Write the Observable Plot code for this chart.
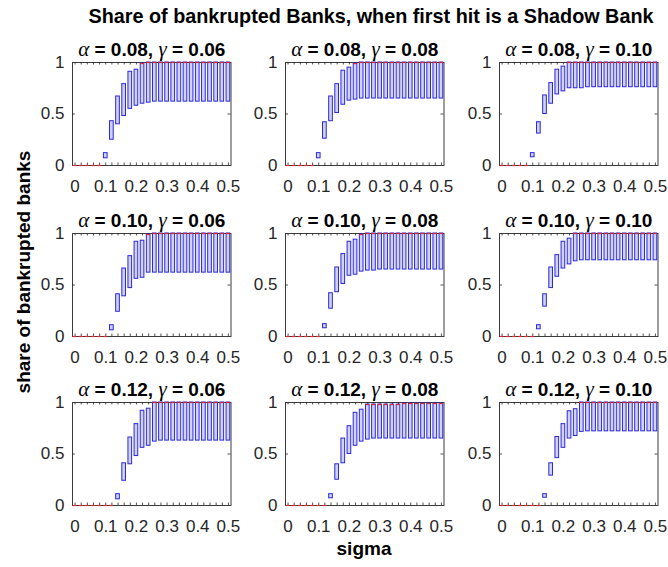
<!DOCTYPE html>
<html><head><meta charset="utf-8">
<script src="https://cdn.jsdelivr.net/npm/d3@7"></script>
<script src="https://cdn.jsdelivr.net/npm/@observablehq/plot@0.6"></script>
<style>
body{margin:0;background:#fff;}
#fig{position:relative;width:668px;height:567px;background:#fff;font-family:"Liberation Sans",Arial,sans-serif;overflow:hidden;}
.panel{position:absolute;}
.lbl{position:absolute;font-weight:bold;color:#000;white-space:nowrap;line-height:1;}
</style></head><body>
<div id="fig"></div>
<script>
// ---- data ----
const sigma = [0, 0.02, 0.04, 0.06, 0.08, 0.1, 0.12, 0.14, 0.16, 0.18, 0.2, 0.22, 0.24, 0.26, 0.28, 0.3, 0.32, 0.34, 0.36, 0.38, 0.4, 0.42, 0.44, 0.46, 0.48, 0.5];
const xTickValues = [0, 0.1, 0.2, 0.3, 0.4, 0.5];
const yTickValues = [0, 0.5, 1];
const alphas = [0.08, 0.10, 0.12];
const gammas = [0.06, 0.08, 0.10];

// lower / upper quartile of each box
const q1_a08_g06 = [0,0,0,0,0, 0.07,0.25,0.40,0.48,0.55,0.58,0.60, 0.61,0.62,0.62,0.62,0.62,0.62,0.62,0.62,0.62,0.62,0.62,0.62,0.62,0.62];
const q3_a08_g06 = [0,0,0,0,0, 0.12,0.43,0.67,0.79,0.91,0.93,0.99, 1,1,1,1,1,1,1,1,1,1,1,1,1,1];
const q1_a08_g08 = [0,0,0,0,0, 0.07,0.26,0.43,0.51,0.59,0.63,0.64, 0.65,0.65,0.65,0.65,0.65,0.65,0.65,0.65,0.65,0.65,0.65,0.65,0.65,0.65];
const q3_a08_g08 = [0,0,0,0,0, 0.12,0.42,0.67,0.79,0.92,0.95,0.99, 1,1,1,1,1,1,1,1,1,1,1,1,1,1];
const q1_a08_g10 = [0,0,0,0,0, 0.08,0.31,0.50,0.60,0.69,0.72, 0.75,0.75,0.75,0.76,0.76,0.76,0.76,0.76,0.76,0.76,0.76,0.76,0.76,0.76,0.76];
const q3_a08_g10 = [0,0,0,0,0, 0.12,0.42,0.68,0.80,0.93,0.96, 1,1,1,1,1,1,1,1,1,1,1,1,1,1,1];
const q1_a10_g06 = [0,0,0,0,0,0, 0.06,0.24,0.39,0.47,0.56,0.57, 0.62,0.62,0.62,0.62,0.62,0.62,0.62,0.62,0.62,0.62,0.62,0.62,0.62,0.62];
const q3_a10_g06 = [0,0,0,0,0,0, 0.11,0.41,0.66,0.78,0.92,0.93, 0.99,1,1,1,1,1,1,1,1,1,1,1,1,1];
const q1_a10_g08 = [0,0,0,0,0,0, 0.08,0.27,0.43,0.51,0.59,0.60,0.63, 0.64,0.64,0.65,0.65,0.65,0.65,0.65,0.65,0.65,0.65,0.65,0.65,0.65];
const q3_a10_g08 = [0,0,0,0,0,0, 0.12,0.42,0.67,0.80,0.92,0.94,0.99, 1,1,1,1,1,1,1,1,1,1,1,1,1];
const q1_a10_g10 = [0,0,0,0,0,0, 0.07,0.29,0.47,0.58,0.66,0.70, 0.73,0.74,0.74,0.74,0.74,0.74,0.74,0.74,0.74,0.74,0.74,0.74,0.74,0.74];
const q3_a10_g10 = [0,0,0,0,0,0, 0.11,0.41,0.67,0.79,0.92,0.95, 1,1,1,1,1,1,1,1,1,1,1,1,1,1];
const q1_a12_g06 = [0,0,0,0,0,0,0, 0.06,0.24,0.40,0.48,0.56,0.58, 0.62,0.63,0.63,0.63,0.63,0.63,0.63,0.63,0.63,0.63,0.63,0.63,0.63];
const q3_a12_g06 = [0,0,0,0,0,0,0, 0.11,0.41,0.66,0.79,0.92,0.94, 1,1,1,1,1,1,1,1,1,1,1,1,1];
const q1_a12_g08 = [0,0,0,0,0,0,0, 0.07,0.25,0.41,0.50,0.58,0.62, 0.64,0.65,0.65,0.65,0.65,0.65,0.65,0.65,0.65,0.65,0.65,0.65,0.65];
const q3_a12_g08 = [0,0,0,0,0,0,0, 0.11,0.40,0.65,0.77,0.90,0.93, 0.98,0.98,0.98,0.98,0.98,0.98,0.99,0.99,0.99,0.99,0.99,0.99,0.99];
const q1_a12_g10 = [0,0,0,0,0,0,0, 0.075,0.29,0.46,0.56,0.65,0.675, 0.715,0.72,0.72,0.72,0.72,0.72,0.72,0.72,0.72,0.72,0.72,0.72,0.72];
const q3_a12_g10 = [0,0,0,0,0,0,0, 0.11,0.41,0.665,0.79,0.915,0.935, 1,1,1,1,1,1,1,1,1,1,1,1,1];

const lowerQ = [[q1_a08_g06, q1_a08_g08, q1_a08_g10],[q1_a10_g06, q1_a10_g08, q1_a10_g10],[q1_a12_g06, q1_a12_g08, q1_a12_g10]];
const upperQ = [[q3_a08_g06, q3_a08_g08, q3_a08_g10],[q3_a10_g06, q3_a10_g08, q3_a10_g10],[q3_a12_g06, q3_a12_g08, q3_a12_g10]];

// ---- layout (styles only) ----
const colX0 = [72, 285, 499];
const rowY0 = [62, 233, 402];
const fw = 158.5, fh = 103;
const mL = 60, mR = 22, mT = 40, mB = 40;
const fontFam = '"Liberation Sans", Arial, sans-serif';

const fig = document.getElementById("fig");
const SVGNS = "http://www.w3.org/2000/svg";

alphas.forEach((a, r) => {
  gammas.forEach((g, c) => {
    // the red median line is only visible where it sits at 0 or at the top of the box
    const rows = sigma.map((s, i) => {
      const lo = lowerQ[r][c][i], hi = upperQ[r][c][i];
      return {s, q1: lo, q3: hi, med: (hi === 0 || hi >= 0.98) ? hi : null};
    });
    const title = `α = ${a.toFixed(2)}, γ = ${g.toFixed(2)}`;
    const svg = Plot.plot({
      width: mL + fw + mR, height: mT + fh + mB,
      marginLeft: mL, marginRight: mR, marginTop: mT, marginBottom: mB,
      style: {background: "transparent", overflow: "visible", fontFamily: fontFam, fontSize: "17px", color: "#262626"},
      x: {type: "band", domain: sigma, paddingInner: 0.4, paddingOuter: 0.12, round: false},
      y: {domain: [0, 1]},
      marks: [
        Plot.frame({stroke: "#3c3c3c", strokeWidth: 1}),
        Plot.tickX(sigma, {x: d => d, insetTop: fh - 2.5, stroke: "#262626", strokeWidth: 0.8}),
        Plot.tickX(sigma, {x: d => d, insetBottom: fh - 2.5, stroke: "#262626", strokeWidth: 0.8}),
        Plot.tickY([0.5], {y: d => d, insetRight: fw - 3, stroke: "#262626", strokeWidth: 0.8}),
        Plot.tickY([0.5], {y: d => d, insetLeft: fw - 3, stroke: "#262626", strokeWidth: 0.8}),
        Plot.barY(rows, {x: "s", y1: "q1", y2: "q3", fill: "#d2d2f5", stroke: "#2828e0", strokeWidth: 1}),
        Plot.tickY(rows, {x: "s", y: "med", stroke: "#e0262b", strokeWidth: 1.2}),
        Plot.axisX({ticks: xTickValues, tickSize: 0, tickPadding: 14, tickFormat: d => String(d), fontSize: 17, label: null}),
        Plot.axisY({ticks: yTickValues, tickSize: 0, tickPadding: 8, tickFormat: d => String(d), fontSize: 17, label: null}),
        Plot.text([title], {text: d => d, frameAnchor: "top", dy: -7, lineAnchor: "bottom", fontWeight: "bold", fontSize: 19, fill: "#000"})
      ]
    });
    // Greek letters in TeX-like serif italic
    svg.querySelectorAll("text").forEach(t => {
      const s = t.textContent;
      if (!/[αγ]/.test(s) || t.children.length) return;
      t.textContent = "";
      s.split(/([αγ])/).forEach(part => {
        if (!part) return;
        const ts = document.createElementNS(SVGNS, "tspan");
        ts.textContent = part;
        if (part === "α" || part === "γ") {
          ts.setAttribute("font-family", '"Liberation Serif", "Times New Roman", serif');
          ts.setAttribute("font-style", "italic");
          ts.setAttribute("font-weight", "normal");
          ts.setAttribute("font-size", "21");
        }
        t.appendChild(ts);
      });
    });
    const wrap = document.createElement("div");
    wrap.className = "panel";
    wrap.style.left = (colX0[c] - mL) + "px";
    wrap.style.top = (rowY0[r] - mT) + "px";
    wrap.style.width = (mL + fw + mR) + "px";
    wrap.appendChild(svg);
    fig.appendChild(wrap);
  });
});

function label(text, css) {
  const d = document.createElement("div");
  d.className = "lbl";
  d.textContent = text;
  Object.assign(d.style, css);
  fig.appendChild(d);
}
label("Share of bankrupted Banks, when first hit is a Shadow Bank", {left: "371px", top: "7px", fontSize: "19.8px", transform: "translateX(-50%)"});
label("share of bankrupted banks", {left: "23px", top: "272px", fontSize: "19px", transform: "translate(-50%,-50%) rotate(-90deg)"});
label("sigma", {left: "364px", top: "539px", fontSize: "19px", transform: "translateX(-50%)"});
</script>
</body></html>
